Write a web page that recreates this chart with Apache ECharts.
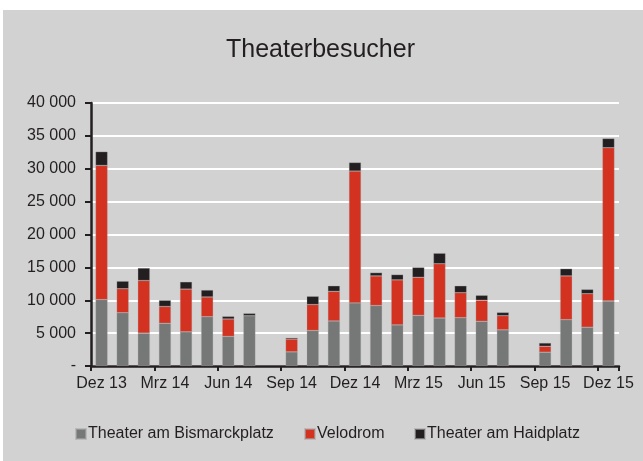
<!DOCTYPE html>
<html><head><meta charset="utf-8">
<script src="https://cdn.jsdelivr.net/npm/echarts@6/dist/echarts.min.js"></script>
<style>
html,body{margin:0;padding:0;background:#fff;}
#wrap{position:absolute;left:3px;top:10px;width:640px;height:451px;background:#d1d2d1;}
#c{position:absolute;left:-3px;top:-10px;width:643px;height:461px;}
</style></head>
<body><div id="wrap"><div id="c"></div></div>
<script>
const categories = ["Dez 13","Jan 14","Feb 14","Mrz 14","Apr 14","Mai 14","Jun 14","Jul 14","Aug 14","Sep 14","Okt 14","Nov 14","Dez 14","Jan 15","Feb 15","Mrz 15","Apr 15","Mai 15","Jun 15","Jul 15","Aug 15","Sep 15","Okt 15","Nov 15","Dez 15"];
const bismarckplatz = [10100,8100,5000,6500,5200,7500,4500,7650,null,2150,5400,6850,9600,9200,6250,7700,7300,7350,6800,5500,null,2100,7050,5900,9900];
const velodrom = [20400,3650,8000,2550,6500,3000,2650,0,null,1950,3950,4500,20050,4500,6850,5800,8250,3800,3200,2150,null,900,6650,5100,23300];
const haidplatz = [2100,1150,1900,950,1100,1050,400,350,null,200,1250,850,1300,500,800,1500,1600,1050,750,500,null,500,1100,650,1400];
const seriesNames = ['Theater am Bismarckplatz','Velodrom','Theater am Haidplatz'];

const chart = echarts.init(document.getElementById('c'), null, {renderer:'canvas'});
const font = 'Liberation Sans, Arial, sans-serif';
function fmt(v){ if(v===0) return '-'; return String(v).replace(/\B(?=(\d{3})+(?!\d))/g,' '); }
const barStyle = (c)=>({color:c, borderColor:'rgba(170,170,170,0.6)', borderWidth:0.5});
const legendLefts = [75, 304, 414];
chart.setOption({
  backgroundColor:'transparent',
  animation:false,
  title:{text:'Theaterbesucher', left:221, top:33, textStyle:{fontFamily:font, fontSize:25, fontWeight:'normal', color:'#231f20'}},
  grid:{left:91, right:24, top:103, bottom:95, containLabel:false},
  legend: seriesNames.map((n,i)=>({
    top:426, left:legendLefts[i], itemWidth:10, itemHeight:10, icon:'rect', padding:0,
    textStyle:{fontFamily:font, fontSize:16, color:'#231f20', padding:[0,0,0,-3]},
    data:[n]
  })),
  xAxis:{
    type:'category', data:categories, boundaryGap:true,
    axisLine:{lineStyle:{color:'#231f20', width:2.5}},
    axisTick:{show:true, interval:2, length:5, lineStyle:{color:'#231f20', width:2}},
    axisLabel:{interval:2, fontFamily:font, fontSize:16, color:'#231f20', margin:10}
  },
  yAxis:{
    type:'value', min:0, max:40000, interval:5000,
    axisLine:{show:true, lineStyle:{color:'#231f20', width:2.5}},
    axisTick:{show:true, length:6, inside:false, lineStyle:{color:'#231f20', width:2}},
    splitLine:{lineStyle:{color:'#ffffff', width:2}},
    axisLabel:{fontFamily:font, fontSize:16, color:'#231f20', margin:15, formatter:fmt}
  },
  series:[
    {name:seriesNames[0], type:'bar', stack:'t', data:bismarckplatz, barCategoryGap:'43%', itemStyle:barStyle('#767777')},
    {name:seriesNames[1], type:'bar', stack:'t', data:velodrom, itemStyle:barStyle('#d33221')},
    {name:seriesNames[2], type:'bar', stack:'t', data:haidplatz, itemStyle:barStyle('#231f20')}
  ]
});
</script></body></html>
